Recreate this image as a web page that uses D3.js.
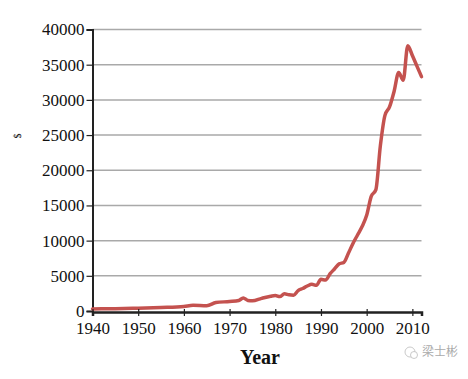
<!DOCTYPE html>
<html>
<head>
<meta charset="utf-8">
<script src="https://cdn.jsdelivr.net/npm/d3@7"></script>
<style>
  body { margin: 0; background: #fff; }
  svg text { font-family: "Liberation Serif", "Times New Roman", serif; fill: #111; }
</style>
</head>
<body>
<svg id="chart" width="468" height="379"></svg>
<script>
const years = [1940, 1945, 1950, 1955, 1960, 1962, 1965, 1967, 1970, 1972, 1973, 1974, 1975,
  1977, 1979, 1980, 1981, 1982, 1983, 1984, 1985, 1986, 1987, 1988, 1989, 1990, 1991, 1992,
  1993, 1994, 1995, 1996, 1997, 1998, 1999, 2000, 2001, 2002, 2003, 2004, 2005, 2006, 2007,
  2008, 2009, 2010, 2011, 2012];
const values = [300, 330, 400, 500, 650, 800, 750, 1200, 1350, 1500, 1850, 1500, 1450,
  1800, 2100, 2200, 2050, 2450, 2300, 2250, 2900, 3200, 3550, 3800, 3650, 4500, 4400, 5300,
  6000, 6700, 6900, 8200, 9600, 10800, 12000, 13600, 16300, 17200, 23500, 27800, 29000, 31200, 33900,
  32800, 37700, 36300, 34800, 33300];
const yTicks = [0, 5000, 10000, 15000, 20000, 25000, 30000, 35000, 40000];
const xTicks = [1940, 1950, 1960, 1970, 1980, 1990, 2000, 2010];

const svg = d3.select("svg#chart");
const x = d3.scaleLinear().domain([1940, 2012]).range([92.5, 421.5]);
const y = d3.scaleLinear().domain([0, 40000]).range([311, 29.5]);

// gridlines
svg.append("g")
    .attr("class", "grid")
  .selectAll("line")
  .data(yTicks.filter(d => d > 0))
  .enter().append("line")
    .attr("x1", x(1940))
    .attr("x2", x(2012))
    .attr("y1", d => y(d))
    .attr("y2", d => y(d))
    .attr("stroke", "#a9a9a9")
    .attr("stroke-width", 1.5);

// y axis
const yAxis = svg.append("g")
    .attr("transform", "translate(" + x(1940) + ",0)")
    .call(d3.axisLeft(y).tickValues(yTicks).tickSize(6).tickPadding(2).tickFormat(d3.format("d")))
    .attr("font-family", "Liberation Serif")
    .attr("font-size", 17);
yAxis.select(".domain").attr("stroke", "#222").attr("stroke-width", 2);
yAxis.selectAll(".tick line").attr("stroke", "#222").attr("stroke-width", 1.2);
yAxis.selectAll("text").attr("fill", "#111");

// line
const line = d3.line()
    .x((d, i) => x(years[i]))
    .y(d => y(d))
    .curve(d3.curveMonotoneX);

svg.append("path")
    .datum(values)
    .attr("fill", "none")
    .attr("stroke", "#c4524f")
    .attr("stroke-width", 3.5)
    .attr("stroke-linejoin", "round")
    .attr("stroke-linecap", "round")
    .attr("d", line);

// x axis
const xAxis = svg.append("g")
    .attr("transform", "translate(0," + (y(0) + 1) + ")")
    .call(d3.axisBottom(x).tickValues(xTicks).tickSize(4).tickPadding(6).tickFormat(d3.format("d")))
    .attr("font-family", "Liberation Serif")
    .attr("font-size", 17);
xAxis.select(".domain").attr("stroke", "#222").attr("stroke-width", 2.5);
xAxis.selectAll(".tick line").attr("stroke", "#222").attr("stroke-width", 1.2).attr("y1", -3);
xAxis.selectAll("text").attr("fill", "#111");

// axis titles
svg.append("text")
    .attr("x", 260)
    .attr("y", 364)
    .attr("text-anchor", "middle")
    .attr("font-size", 20)
    .attr("font-weight", "bold")
    .text("Year");

svg.append("text")
    .attr("transform", "translate(21,136) rotate(-90)")
    .attr("text-anchor", "middle")
    .attr("font-size", 10)
    .text("$");

// watermark
const wm = svg.append("g").attr("transform", "translate(404,356)");
wm.append("circle").attr("cx", 6).attr("cy", -4).attr("r", 5)
    .attr("fill", "none").attr("stroke", "#bbb").attr("stroke-width", 0.8);
wm.append("circle").attr("cx", 10).attr("cy", -1).attr("r", 3.5)
    .attr("fill", "#fff").attr("stroke", "#bbb").attr("stroke-width", 0.8);
wm.append("text")
    .attr("x", 18)
    .attr("y", 0)
    .attr("font-size", 12)
    .style("font-family", "'Noto Sans CJK SC', sans-serif")
    .style("fill", "#aaa")
    .text("梁士彬");
</script>
</body>
</html>
